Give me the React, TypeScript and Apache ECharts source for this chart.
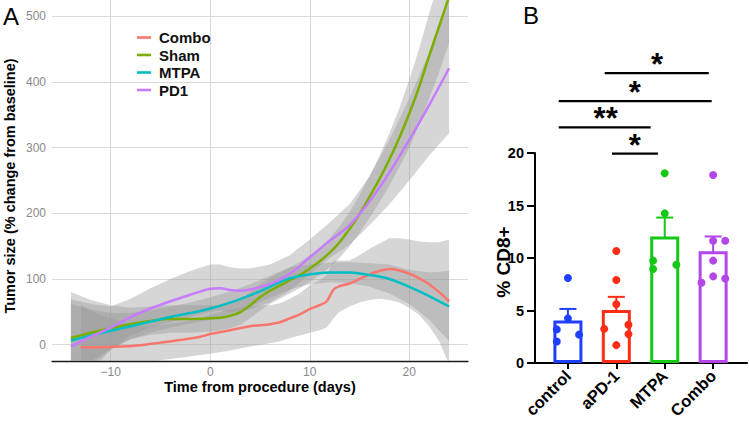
import React, { useEffect, useRef } from 'react';
import * as echarts from 'echarts';

const FONT = '"Liberation Sans", Arial, Helvetica, sans-serif';

// ---------- Panel A data (smoothed tumour-size curves with confidence ribbons) ----------
const groupNames = ['Combo', 'Sham', 'MTPA', 'PD1'];
const groupColors = ['#F8766D', '#7CAE00', '#00BFC4', '#C77CFF'];

const comboX = [-13, -11, -9, -7, -5, -3, -1, 0, 2, 4, 6, 7, 8, 9, 10, 11, 11.7, 12.4, 13, 14, 15, 16, 17, 18, 19, 20, 21, 22, 23, 24];
const comboY = [-4, -4, -3, -1, 3, 7, 12, 16, 22, 28, 31, 34, 40, 46, 54, 60, 66, 84, 89, 93, 100, 107, 112, 115, 113, 108, 101, 92, 80, 66];
const comboLo = [-68, -52, -40, -30, -24, -20, -16, -14, -9, -3, 2, 5, 10, 14, 18, 22, 26, 40, 50, 58, 64, 68, 70, 68, 64, 56, 45, 28, 5, -30];
const comboHi = [60, 45, 35, 28, 30, 34, 40, 46, 53, 59, 60, 63, 70, 78, 90, 98, 106, 128, 128, 128, 136, 146, 154, 162, 162, 160, 157, 156, 156, 160];

const shamX = [-14, -12, -10, -8, -6, -4, -2, 0, 1, 2, 3, 4, 5, 6, 7, 8, 9, 10, 11, 12, 13, 14, 15, 16, 17, 18, 19, 20, 21, 22, 23, 24];
const shamY = [10, 18, 25, 31, 36, 39, 39, 40, 41, 44, 49, 60, 72, 82, 90, 98, 106, 116, 127, 140, 156, 176, 199, 225, 252, 282, 315, 352, 393, 440, 485, 530];
const shamLo = [-60, -30, -8, 8, 15, 18, 18, 20, 22, 25, 30, 40, 52, 62, 70, 78, 86, 96, 106, 118, 132, 150, 170, 193, 217, 242, 270, 300, 335, 375, 415, 460];
const shamHi = [80, 68, 60, 56, 58, 60, 60, 60, 60, 63, 68, 80, 92, 102, 110, 118, 126, 136, 148, 162, 180, 202, 228, 257, 287, 322, 360, 404, 451, 505, 555, 600];

const mtpaX = [-14, -12, -10, -8, -6, -4, -2, 0, 2, 4, 6, 8, 10, 12, 14, 16, 18, 20, 22, 24];
const mtpaY = [6, 14, 21, 28, 35, 42, 48, 55, 64, 75, 88, 101, 107, 110, 110, 106, 100, 88, 74, 58];
const mtpaLo = [-50, -25, -6, 8, 18, 26, 32, 38, 47, 58, 71, 84, 92, 95, 94, 88, 78, 62, 38, 5];
const mtpaHi = [62, 53, 48, 48, 52, 58, 64, 72, 81, 92, 105, 118, 122, 125, 126, 124, 122, 114, 110, 112];

const pd1X = [-14, -12, -10, -8, -6, -4, -2, 0, 1, 2, 3, 4, 6, 8, 10, 12, 14, 16, 18, 20, 22, 24];
const pd1Y = [-3, 12, 26, 42, 55, 66, 76, 85, 86, 83, 82, 84, 92, 108, 133, 158, 182, 218, 262, 312, 365, 421];
const pd1Lo = [-75, -42, -8, 14, 26, 34, 42, 50, 52, 50, 50, 54, 64, 82, 108, 132, 152, 182, 214, 250, 288, 322];
const pd1Hi = [69, 62, 58, 70, 86, 100, 112, 122, 122, 118, 116, 116, 122, 136, 160, 186, 214, 256, 312, 375, 445, 525];

const curveX = [comboX, shamX, mtpaX, pd1X];
const curveY = [comboY, shamY, mtpaY, pd1Y];
const curveLo = [comboLo, shamLo, mtpaLo, pd1Lo];
const curveHi = [comboHi, shamHi, mtpaHi, pd1Hi];

const xTicksA = [-10, 0, 10, 20];
const yTicksA = [0, 100, 200, 300, 400, 500];

// ---------- Panel B data (% CD8+ bar chart) ----------
const categories = ['control', 'aPD-1', 'MTPA', 'Combo'];
const barColors = ['#1F3FFF', '#FF2D16', '#16C816', '#B347E8'];
const barMeans = [4.05, 5.05, 12.05, 10.65];
const barSem = [1.1, 1.25, 1.8, 1.4];

// points: [jitter offset within category, value]
const controlPts = [[0, 8.1], [0, 4.25], [-0.23, 3.2], [0.23, 2.7], [-0.23, 2.05]];
const apd1Pts = [[0, 10.67], [0, 7.9], [0, 5.6], [-0.25, 3.25], [0.25, 3.65], [0.25, 2.75], [0, 1.7]];
const mtpaPts = [[0, 18.07], [0, 14.25], [-0.24, 9.75], [-0.24, 8.95], [0.24, 9.35]];
const comboPts = [[0, 17.9], [0, 11.65], [0.25, 11.65], [0, 9.75], [0, 8.25], [-0.24, 7.65], [0.25, 8.05]];
const groupPts = [controlPts, apd1Pts, mtpaPts, comboPts];

const yTicksB = [0, 5, 10, 15, 20];

// significance brackets
const bracketFrom = [0.76, -0.19, -0.19, 0.91];
const bracketTo = [2.91, 2.97, 1.71, 1.86];
const bracketLevel = [27.6, 24.95, 22.45, 19.95];
const bracketStarX = [1.84, 1.38, 0.78, 1.38];
const bracketText = ['*', '*', '**', '*'];

export default function App() {
  const ref = useRef<HTMLDivElement>(null);

  useEffect(() => {
    if (!ref.current) return;
    const chart = echarts.init(ref.current, undefined, { renderer: 'svg' });

    const seriesA: any[] = [];
    groupNames.forEach((name, g) => {
      const xs = curveX[g];
      const lo = curveLo[g];
      const hi = curveHi[g];
      seriesA.push({
        type: 'custom',
        xAxisIndex: 0,
        yAxisIndex: 0,
        clip: true,
        silent: true,
        data: [[xs[0], curveY[g][0]]],
        renderItem: (params: any, api: any) => {
          const pts: number[][] = [];
          for (let i = 0; i < xs.length; i++) pts.push(api.coord([xs[i], hi[i]]));
          for (let i = xs.length - 1; i >= 0; i--) pts.push(api.coord([xs[i], lo[i]]));
          return {
            type: 'polygon',
            shape: { points: pts, smooth: 0 },
            style: { fill: 'rgba(153,153,153,0.4)', stroke: 'none' },
          };
        },
      });
      seriesA.push({
        type: 'line',
        name,
        xAxisIndex: 0,
        yAxisIndex: 0,
        data: xs.map((x, i) => [x, curveY[g][i]]),
        smooth: 0.35,
        symbol: 'none',
        clip: true,
        lineStyle: { color: groupColors[g], width: 2.5 },
        itemStyle: { color: groupColors[g] },
      });
    });

    const seriesB: any[] = [
      {
        type: 'bar',
        xAxisIndex: 1,
        yAxisIndex: 1,
        barWidth: 29,
        data: barMeans.map((m, i) => ({ value: [i, m], itemStyle: { borderColor: barColors[i] } })),
        itemStyle: { color: '#ffffff', borderWidth: 3 },
      },
      {
        type: 'custom',
        xAxisIndex: 1,
        yAxisIndex: 1,
        data: barMeans.map((m, i) => [i, m - barSem[i], m + barSem[i]]),
        encode: { x: 0, y: [1, 2] },
        renderItem: (params: any, api: any) => {
          const i = api.value(0);
          const lo = api.coord([i, api.value(1)]);
          const hi = api.coord([i, api.value(2)]);
          const c = barColors[params.dataIndex];
          const hw = 8.5;
          const st = { stroke: c, lineWidth: 2 };
          return {
            type: 'group',
            children: [
              { type: 'line', shape: { x1: lo[0], y1: lo[1], x2: hi[0], y2: hi[1] }, style: st },
              { type: 'line', shape: { x1: hi[0] - hw, y1: hi[1], x2: hi[0] + hw, y2: hi[1] }, style: st },
              { type: 'line', shape: { x1: lo[0] - hw, y1: lo[1], x2: lo[0] + hw, y2: lo[1] }, style: st },
            ],
          };
        },
      },
      ...groupPts.map((pts, g) => ({
        type: 'scatter',
        xAxisIndex: 1,
        yAxisIndex: 1,
        symbolSize: 8,
        clip: false,
        itemStyle: { color: barColors[g], opacity: 1 },
        data: pts.map((p) => [g + p[0], p[1]]),
      })),
      {
        type: 'custom',
        xAxisIndex: 1,
        yAxisIndex: 1,
        clip: false,
        data: bracketLevel.map((y, i) => [bracketFrom[i], bracketTo[i], y]),
        encode: { x: [0, 1], y: 2 },
        renderItem: (params: any, api: any) => {
          const p1 = api.coord([api.value(0), api.value(2)]);
          const p2 = api.coord([api.value(1), api.value(2)]);
          return {
            type: 'line',
            shape: { x1: p1[0], y1: p1[1], x2: p2[0], y2: p2[1] },
            style: { stroke: '#000', lineWidth: 2.3 },
          };
        },
      },
      {
        type: 'custom',
        xAxisIndex: 1,
        yAxisIndex: 1,
        clip: false,
        data: bracketLevel.map((y, i) => [bracketStarX[i], y]),
        renderItem: (params: any, api: any) => {
          const p = api.coord([api.value(0), api.value(1)]);
          return {
            type: 'text',
            x: p[0],
            y: p[1] - 8.5,
            style: {
              text: bracketText[params.dataIndex],
              fill: '#000',
              fontSize: 31,
              lineHeight: 14,
              fontWeight: 'bold',
              fontFamily: FONT,
              align: 'center',
              verticalAlign: 'middle',
            },
          };
        },
      },
    ];

    const option: any = {
      animation: false,
      backgroundColor: '#ffffff',
      textStyle: { fontFamily: FONT },
      grid: [
        { left: 52, top: 0, width: 416, height: 361 },
        { left: 535, top: 153, width: 212, height: 210 },
      ],
      legend: {
        orient: 'vertical',
        left: 132,
        top: 25,
        icon: 'rect',
        itemWidth: 14,
        itemHeight: 2.6,
        itemGap: 2.5,
        selectedMode: false,
        data: groupNames,
        textStyle: { fontSize: 15, fontWeight: 'bold', color: '#111', fontFamily: FONT, padding: [0, 0, 0, 3] },
      },
      xAxis: [
        {
          gridIndex: 0,
          type: 'value',
          min: -15.9,
          max: 25.9,
          axisLine: { show: true, onZero: false, lineStyle: { color: '#1a1a1a', width: 1.3 } },
          axisTick: { show: false, customValues: xTicksA },
          axisLabel: {
            customValues: xTicksA,
            color: '#8a8a8a',
            fontSize: 12,
            margin: 5,
            fontFamily: FONT,
            formatter: (v: number) => (v < 0 ? '\u2212' + Math.abs(v) : String(v)),
          },
          splitLine: { show: true, lineStyle: { color: '#dadada', width: 1 } },
        },
        {
          gridIndex: 1,
          type: 'value',
          min: -0.68,
          max: 3.7,
          axisLine: { show: true, onZero: false, lineStyle: { color: '#000', width: 2 } },
          axisTick: { show: true, customValues: [0, 1, 2, 3], length: 6, lineStyle: { color: '#000', width: 2 } },
          axisLabel: {
            customValues: [0, 1, 2, 3],
            formatter: (v: number) => categories[Math.round(v)],
            rotate: 45,
            fontSize: 16.5,
            fontWeight: 'bold',
            color: '#000',
            margin: 10,
            fontFamily: FONT,
          },
          splitLine: { show: false },
        },
      ],
      yAxis: [
        {
          gridIndex: 0,
          type: 'value',
          min: -25,
          max: 525,
          axisLine: { show: false, onZero: false },
          axisTick: { show: false, customValues: yTicksA },
          axisLabel: { customValues: yTicksA, color: '#8a8a8a', fontSize: 12, margin: 6, fontFamily: FONT },
          splitLine: { show: true, lineStyle: { color: '#dadada', width: 1 } },
        },
        {
          gridIndex: 1,
          type: 'value',
          min: 0,
          max: 20,
          interval: 5,
          axisLine: { show: true, onZero: false, lineStyle: { color: '#000', width: 2 } },
          axisTick: { show: true, length: 8, customValues: yTicksB, lineStyle: { color: '#000', width: 2 } },
          axisLabel: { customValues: yTicksB, fontSize: 14.5, fontWeight: 'bold', color: '#000', margin: 11, fontFamily: FONT },
          splitLine: { show: false },
        },
      ],
      graphic: [
        { type: 'text', x: 3, y: 16.7, style: { text: 'A', fontSize: 24, fontFamily: FONT, fill: '#000', align: 'left', verticalAlign: 'middle' } },
        { type: 'text', x: 523, y: 15.7, style: { text: 'B', fontSize: 24, fontFamily: FONT, fill: '#000', align: 'left', verticalAlign: 'middle' } },
        {
          type: 'text', x: 10, y: 186, rotation: Math.PI / 2,
          style: { text: 'Tumor size (% change from baseline)', fontSize: 14.5, fontWeight: 'bold', fontFamily: FONT, fill: '#000', align: 'center', verticalAlign: 'middle' },
        },
        {
          type: 'text', x: 260, y: 386.5,
          style: { text: 'Time from procedure (days)', fontSize: 14.5, lineHeight: 13, fontWeight: 'bold', fontFamily: FONT, fill: '#000', align: 'center', verticalAlign: 'middle' },
        },
        {
          type: 'text', x: 503, y: 262, rotation: Math.PI / 2,
          style: { text: '% CD8+', fontSize: 19, lineHeight: 16, fontWeight: 'bold', fontFamily: FONT, fill: '#000', align: 'center', verticalAlign: 'middle' },
        },
      ],
      series: [...seriesA, ...seriesB],
    };

    chart.setOption(option);
    return () => chart.dispose();
  }, []);

  return <div ref={ref} style={{ position: 'fixed', left: 0, top: 0, width: 749, height: 424 }} />;
}
